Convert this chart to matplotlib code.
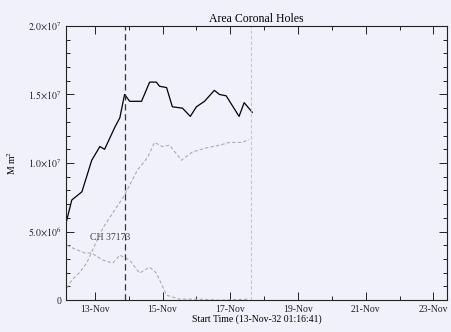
import matplotlib
matplotlib.use("Agg")
import matplotlib.pyplot as plt
from matplotlib.ticker import FixedLocator, MultipleLocator

plt.rcParams['font.family'] = ['Liberation Serif', 'DejaVu Serif']
plt.rcParams['mathtext.fontset'] = 'stix'

# total area (black) - x in days of November 2032
area_days = [12.15, 12.32, 12.62, 12.91, 13.15, 13.29, 13.59, 13.74, 13.88, 14.03,
             14.38, 14.62, 14.82, 14.91, 15.12, 15.29, 15.59, 15.82, 16.00, 16.24,
             16.53, 16.68, 16.88, 17.26, 17.41, 17.65]
area_vals = [5.6e6, 7.3e6, 7.9e6, 1.02e7, 1.12e7, 1.10e7, 1.26e7, 1.33e7, 1.50e7, 1.45e7,
             1.45e7, 1.59e7, 1.59e7, 1.56e7, 1.55e7, 1.41e7, 1.40e7, 1.34e7, 1.41e7, 1.45e7,
             1.53e7, 1.50e7, 1.49e7, 1.34e7, 1.44e7, 1.37e7]

# gray series
rise_days = [12.18, 12.32, 12.56, 12.76, 13.0, 13.24, 13.53, 13.88, 14.03, 14.26,
             14.56, 14.76, 15.0, 15.21, 15.56, 15.88, 16.29, 16.68, 16.97, 17.32, 17.56]
rise_vals = [8.8e5, 1.46e6, 2.04e6, 2.7e6, 4.0e6, 5.26e6, 6.35e6, 7.66e6, 8.39e6, 9.49e6,
             1.04e7, 1.15e7, 1.12e7, 1.13e7, 1.02e7, 1.08e7, 1.11e7, 1.13e7, 1.15e7, 1.15e7, 1.17e7]

fall_days = [12.18, 12.35, 12.71, 12.91, 13.24, 13.53, 13.74, 14.03, 14.32, 14.62,
             14.82, 15.12, 15.5, 16.09, 16.68, 17.56]
fall_vals = [4.0e6, 3.8e6, 3.43e6, 3.43e6, 2.92e6, 2.7e6, 3.28e6, 2.92e6, 1.97e6, 2.41e6,
             1.97e6, 3.6e5, 7e4, 7e4, 0, 7e4]

event_day = 13.88
end_day = 17.62
label_day = 13.45
tick_days = [13, 15, 17, 19, 21, 23]
tick_labels = ['13-Nov', '15-Nov', '17-Nov', '19-Nov', '21-Nov', '23-Nov']
ytick_vals = [0, 5e6, 1e7, 1.5e7, 2e7]
ytick_labels = ['0', r'$5.0{\times}10^6$', r'$1.0{\times}10^7$', r'$1.5{\times}10^7$', r'$2.0{\times}10^7$']

bg = '#f1f1fc'
fig = plt.figure(figsize=(4.52, 3.32), dpi=100, facecolor=bg)
ax = fig.add_axes([0.146, 0.096, 0.843, 0.826], facecolor=bg)

ax.plot(rise_days, rise_vals, color='#ababb4', lw=0.8, ls=(0, (3, 2)))
ax.plot(fall_days, fall_vals, color='#ababb4', lw=0.8, ls=(0, (3, 2)))
ax.plot(area_days, area_vals, color='black', lw=0.9)

ax.axvline(event_day, color='#333333', lw=0.9, ls=(0, (5, 3)))
ax.axvline(end_day, color='#c4c4cc', lw=0.8, ls=(0, (3, 2)))
ax.text(label_day, 4.6e6, 'CH 37173', ha='center', va='center', fontsize=7, color='#444444')

ax.set_xlim(12.15, 23.4)
ax.set_ylim(0, 2e7)
ax.xaxis.set_major_locator(FixedLocator(tick_days))
ax.set_xticklabels(tick_labels)
ax.xaxis.set_minor_locator(MultipleLocator(1))
ax.yaxis.set_major_locator(FixedLocator(ytick_vals))
ax.set_yticklabels(ytick_labels)
ax.yaxis.set_minor_locator(MultipleLocator(1e6))
ax.tick_params(which='both', direction='in', top=True, right=True, labelsize=7, colors='#222222')
ax.tick_params(which='major', length=6, width=0.7)
ax.tick_params(which='minor', length=3, width=0.7)
for s in ax.spines.values():
    s.set_linewidth(0.8)
    s.set_color('#222222')

ax.set_title('Area Coronal Holes', fontsize=8.5, pad=3)
ax.set_ylabel(r'M m$^2$', fontsize=7, labelpad=7)
ax.set_xlabel('Start Time (13-Nov-32 01:16:41)', fontsize=7, labelpad=0)

fig.savefig('out.png', dpi=100, facecolor=bg)
